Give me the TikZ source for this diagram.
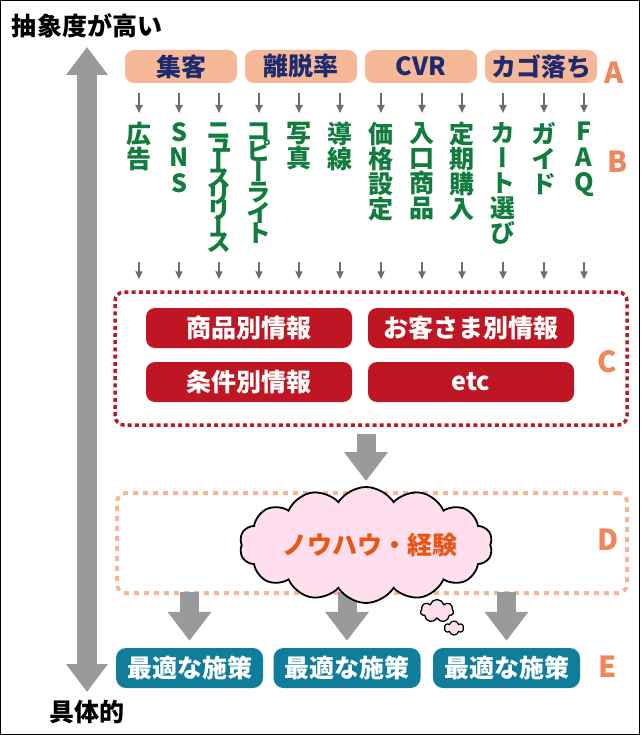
\documentclass[tikz,border=0pt]{standalone}
\usepackage{fontspec}
\setmainfont{Noto Sans CJK JP}
\newfontfamily\vjp{Noto Sans CJK JP}[RawFeature=+vert]
\usepackage{tikz}
\usetikzlibrary{arrows.meta,positioning,shapes.symbols}
\definecolor{pillfill}{RGB}{247,184,152}
\definecolor{pilltext}{RGB}{30,44,110}
\definecolor{bgreen}{RGB}{18,124,62}
\definecolor{cred}{RGB}{190,22,34}
\definecolor{dsalmon}{RGB}{248,182,152}
\definecolor{lettero}{RGB}{240,134,90}
\definecolor{eteal}{RGB}{16,126,154}
\definecolor{arrgray}{RGB}{152,154,155}
\definecolor{tickgray}{RGB}{110,110,110}
\definecolor{cloudpink}{RGB}{255,222,238}
\definecolor{knowhow}{RGB}{232,86,22}

\begin{document}
\begin{tikzpicture}[
  x=1pt, y=-1pt,
  jp/.style={font=\bfseries\fontsize{25pt}{25pt}\selectfont},
  pill/.style={jp, fill=pillfill, text=pilltext, rounded corners=9pt,
               minimum width=112pt, minimum height=33pt, inner sep=0pt},
  infobox/.style={jp, fill=cred, text=white, rounded corners=9pt,
                  minimum width=206pt, minimum height=40pt, inner sep=0pt},
  planbox/.style={jp, fill=eteal, text=white, rounded corners=10pt,
                  minimum width=147pt, minimum height=40pt, inner sep=0pt},
  letter/.style={text=lettero, inner sep=0pt, font=\bfseries\fontsize{29pt}{29pt}\selectfont},
  vcol/.style={anchor=north, inner sep=0pt, align=center, text=bgreen},
  tickarrow/.style={draw=tickgray, line width=1.8pt, -{Triangle[width=7pt,length=8pt]}},
  blockarrow/.style={draw=arrgray, line width=19pt, -{Triangle[width=42pt,length=29pt]}},
  groupbox/.style={rounded corners=9pt, inner sep=0pt},
  puff/.style={cloud, draw=black, fill=cloudpink, inner sep=0pt, cloud ignores aspect},
]
\useasboundingbox (0,0) rectangle (640,735);
\draw[line width=1pt] (0.5,0.5) rectangle (639.5,734.5);

% abstraction axis
\coordinate (axtop) at (87,47);
\coordinate (axbot) at (87,692);
\draw[blockarrow, line width=20pt,
      {Triangle[width=40pt,length=28pt]}-{Triangle[width=40pt,length=28pt]}] (axbot) -- (axtop);
\node[jp, inner sep=0pt, above=9pt of axtop] (abstract) {抽象度が高い};
\node[jp, inner sep=0pt, below=8pt of axbot] (concrete) {具体的};

% A: indicators
\node[pill] (a1) at (181,66.5) {集客};
\node[pill] (a2) at (301,66.5) {離脱率};
\node[pill] (a3) at (421,66.5) {CVR};
\node[pill] (a4) at (541,66.5) {カゴ落ち};
\node[letter] (la) at (614,72.5) {A};

% B: measures, set vertically
\foreach \x/\sk/\txt [count=\i] in {
    139/25/{広\\告}, 179/25.5/{S\\N\\S},
    219/16/{ニ\\ュ\\ー\\ス\\リ\\リ\\ー\\ス},
    259/20.5/{コ\\ピ\\ー\\ラ\\イ\\ト},
    299/25/{写\\真}, 340/25/{導\\線},
    381/25/{価\\格\\設\\定}, 422/25/{入\\口\\商\\品},
    462/25/{定\\期\\購\\入}, 503/25/{カ\\ー\\ト\\選\\び},
    544/25/{ガ\\イ\\ド}, 584/25.5/{F\\A\\Q}}
  \node[vcol, font={\vjp\bfseries\fontsize{25pt}{\sk pt}\selectfont\lineskiplimit=-50pt}]
    (b\i) at (\x,122) {\txt};
\node[letter] (lb) at (618,162) {B};

% C: information
\node[groupbox, draw=cred, line width=3.5pt, dash pattern=on 4pt off 3.2pt,
      minimum width=512pt, minimum height=133pt] (cbox) at (371,358.5) {};
\node[infobox] (c1) at (249,328) {商品別情報};
\node[infobox] (c2) at (471,328) {お客さま別情報};
\node[infobox] (c3) at (249,382) {条件別情報};
\node[infobox] (c4) at (471,382) {etc};
\node[letter] (lc) at (607,362) {C};

\coordinate (brow) at (0,262);
\foreach \i in {1,...,12} {
  \draw[tickarrow, shorten <=10pt, shorten >=9pt] (b\i.north |- a1.south) -- (b\i.north);
  \draw[tickarrow, shorten >=11pt] (b\i.north |- brow) -- (b\i.north |- cbox.north);
}

% D: know-how
\node[groupbox, draw=dsalmon, line width=4pt, dash pattern=on 5pt off 5pt,
      minimum width=510pt, minimum height=100pt] (dbox) at (372,543) {};
\node[letter] (ld) at (608,540) {D};

% E: measures
\node[planbox] (e1) at (189.5,668) {最適な施策};
\node[planbox] (e2) at (347,668) {最適な施策};
\node[planbox] (e3) at (506.5,668) {最適な施策};
\node[letter] (le) at (608,667) {E};

\foreach \i in {1,2,3}
  \draw[blockarrow, shorten <=-3pt, shorten >=7pt] (e\i.north |- dbox.south) -- (e\i.north);

% thought cloud
\node[puff, cloud puffs=14, cloud puff arc=115, line width=1.8pt,
      minimum width=253pt, minimum height=116pt] (cloud) at (366,545) {};
\node[jp, text=knowhow, inner sep=0pt] (knowhow) at ([xshift=4pt]cloud.center) {ノウハウ・経験};
\node[puff, cloud puffs=7, line width=1.3pt, minimum width=33pt, minimum height=23pt] (bub1) at (437,611) {};
\node[puff, cloud puffs=6, line width=1.2pt, minimum width=19pt, minimum height=14pt] (bub2) at (454,628) {};

\draw[blockarrow, shorten <=7pt, shorten >=5pt] (cloud.north |- cbox.south) -- (cloud.north);
\end{tikzpicture}
\end{document}
